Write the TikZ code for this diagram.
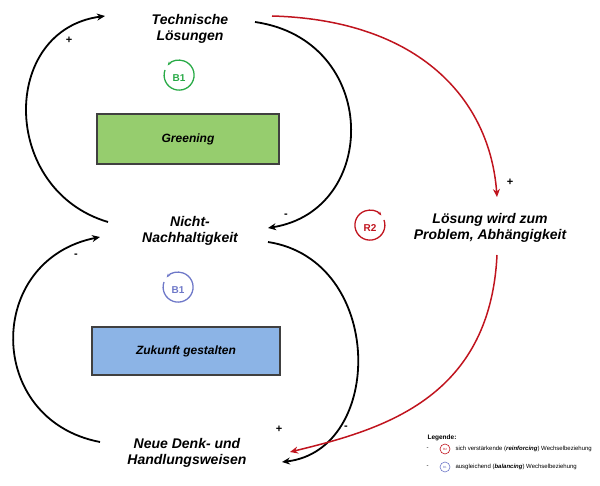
\documentclass[tikz,border=0pt]{standalone}
\usepackage{fontspec}
\setmainfont{Liberation Sans}
\usetikzlibrary{arrows.meta}
\definecolor{redc}{RGB}{192,20,30}
\definecolor{greenc}{RGB}{40,170,70}
\definecolor{bluec}{RGB}{110,120,200}
\definecolor{gfill}{RGB}{150,205,110}
\definecolor{bfill}{RGB}{140,180,230}
\tikzset{
 lab/.style={font=\bfseries\itshape\fontsize{14}{16.5}\selectfont,align=center},
 conn/.style={line width=1.8pt,-{Stealth[length=8pt,width=7pt]}},
 rconn/.style={conn,draw=redc,line width=1.5pt},
 sign/.style={font=\bfseries\fontsize{11}{12}\selectfont},
 loopc/.style={line width=1.3pt,-{Stealth[length=4pt]}},
 lg/.style={font=\fontsize{6}{7}\selectfont,anchor=west}
}
\begin{document}
\begin{tikzpicture}[x=1pt,y=-1pt]
\useasboundingbox (0,0) rectangle (600,486);
\node[lab] (tech) at (190,29) {Technische\\Lösungen};
\node[lab] (nicht) at (190,231) {Nicht-\\Nachhaltigkeit};
\node[lab] (neue) at (187,453) {Neue Denk- und\\Handlungsweisen};
\node[lab] (loes) at (490,228) {Lösung wird zum\\Problem, Abhängigkeit};
% boxes
\node[draw=black!75,line width=2pt,fill=gfill,minimum width=182pt,minimum height=50pt,font=\bfseries\itshape\fontsize{12}{13}\selectfont] (green) at (188,139) {Greening};
\node[draw=black!75,line width=2pt,fill=bfill,minimum width=188pt,minimum height=48pt,font=\bfseries\itshape\fontsize{12}{13}\selectfont] (blue) at (186,351) {Zukunft gestalten};
% loop markers
\node[text=greenc,font=\bfseries\fontsize{10}{10}\selectfont] (b1a) at (179,78) {B1};
\draw[greenc,loopc] (165,70) arc (200:-140:15);
\node[text=bluec,font=\bfseries\fontsize{10}{10}\selectfont] (b1b) at (178,290) {B1};
\draw[bluec,loopc] (164,282) arc (200:-140:15);
\node[text=redc,font=\bfseries\fontsize{10}{10}\selectfont] (r2) at (370,228) {R2};
\draw[redc,loopc] (384,220) arc (-20:320:15);
% connectors
\coordinate (a1) at (108,222);
\coordinate (a2) at (105,16);
\draw[conn] (a1) .. controls (0,190) and (0,30) .. (a2);
\coordinate (b1) at (255,22);
\coordinate (b2) at (268,228);
\draw[conn] (b1) .. controls (380,40) and (380,210) .. (b2);
\coordinate (c1) at (100,442);
\coordinate (c2) at (100,237);
\draw[conn] (c1) .. controls (-15,420) and (-15,260) .. (c2);
\coordinate (d1) at (268,242);
\coordinate (d2) at (282,462);
\draw[conn] (d1) .. controls (385,260) and (385,450) .. (d2);
\coordinate (e1) at (272,16);
\coordinate (e2) at (497,197);
\draw[rconn] (e1) .. controls (420,20) and (490,100) .. (e2);
\coordinate (f1) at (497,255);
\coordinate (f2) at (290,452);
\draw[rconn] (f1) .. controls (490,400) and (380,430) .. (f2);
\node[sign] at (69,40) {+};
\node[sign] at (286,216) {-};
\node[sign] at (76,256) {-};
\node[sign] at (279,429) {+};
\node[sign] at (510,182) {+};
\node[sign] at (346,428) {-};
% legend
\node[lg,font=\bfseries\fontsize{6.5}{7}\selectfont] (leg) at (424,438) {Legende:};
\node[lg] (l1) at (423,449) {-};
\draw[redc,line width=0.6pt] (445,449) circle (5);
\node[text=redc,font=\fontsize{3}{3}\selectfont] (r2s) at (445,449) {R2};
\node[lg] (l1t) at (452,449) {sich verstärkende (\textbf{\textit{reinforcing}}) Wechselbeziehung};
\node[lg] (l2) at (423,467) {-};
\draw[bluec,line width=0.6pt] (445,467) circle (5);
\node[text=bluec,font=\fontsize{3}{3}\selectfont] (b1s) at (445,467) {B1};
\node[lg] (l2t) at (452,467) {ausgleichend (\textbf{\textit{balancing}}) Wechselbeziehung};
\end{tikzpicture}
\end{document}
